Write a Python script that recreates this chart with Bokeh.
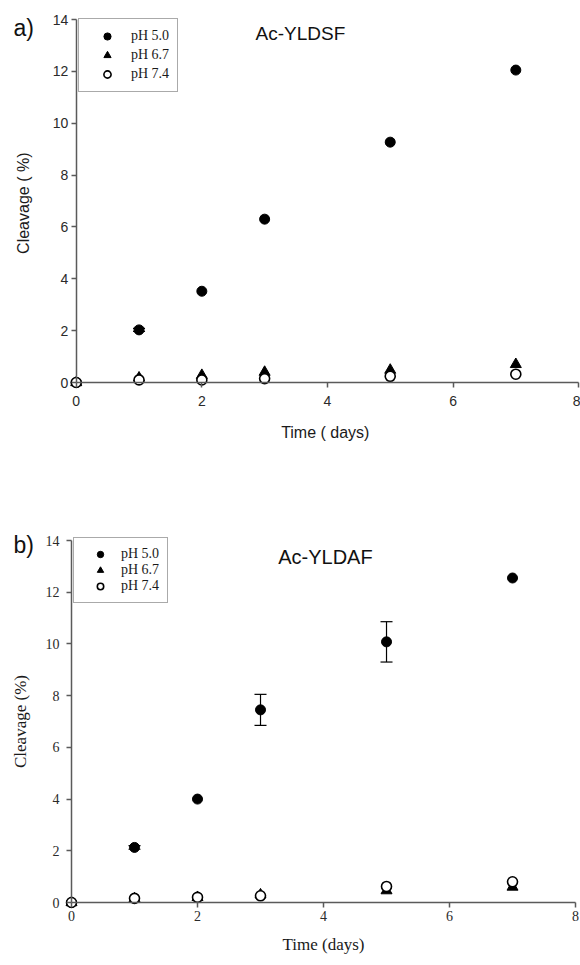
from bokeh.plotting import figure
from bokeh.models import (Range1d, FixedTicker, Legend, LegendItem, Label,
                          Whisker, TeeHead, ColumnDataSource)
from bokeh.layouts import column
from bokeh.embed import file_html
from bokeh.resources import INLINE

# ---------------- data ----------------
days = [0, 1, 2, 3, 5, 7]
series_labels = ["pH 5.0", "pH 6.7", "pH 7.4"]
x_ticks = [0, 2, 4, 6, 8]
y_ticks = [0, 2, 4, 6, 8, 10, 12, 14]

# panel a) Ac-YLDSF
a_ph50 = [0, 2.03, 3.52, 6.3, 9.27, 12.05]
a_ph50_err = [0, 0.06, 0, 0, 0, 0]
a_ph67 = [0, 0.18, 0.28, 0.4, 0.48, 0.7]
a_ph74 = [0, 0.1, 0.1, 0.15, 0.24, 0.32]

# panel b) Ac-YLDAF
b_ph50 = [0, 2.13, 4.0, 7.45, 10.08, 12.55]
b_ph50_err = [0, 0.07, 0, 0.6, 0.78, 0]
b_ph67 = [0, 0.15, 0.2, 0.3, 0.46, 0.6]
b_ph74 = [0, 0.16, 0.2, 0.26, 0.62, 0.8]

AXIS_COLOR = "#5a5a5a"
W = 580


def make_fig(h, xr, yr):
    p = figure(width=W, height=h, x_range=Range1d(*xr), y_range=Range1d(*yr),
               output_backend="svg", toolbar_location=None,
               min_border=0, min_border_left=0, min_border_right=0,
               min_border_top=0, min_border_bottom=0,
               outline_line_color=None)
    p.grid.visible = False
    return p


def style_axes(p, font, tick_size, label_size, xlab, ylab,
               x_std, x_lab_std, y_std, y_lab_std):
    xa = p.xaxis[0]
    ya = p.yaxis[0]
    xa.fixed_location = 0
    ya.fixed_location = 0
    xa.bounds = (0, 8)
    ya.bounds = (0, 14)
    xa.ticker = FixedTicker(ticks=x_ticks)
    ya.ticker = FixedTicker(ticks=y_ticks)
    for ax in (xa, ya):
        ax.major_tick_out = 5
        ax.major_tick_in = 0
        ax.minor_tick_out = 0
        ax.minor_tick_in = 0
        ax.axis_line_color = AXIS_COLOR
        ax.axis_line_width = 1.5
        ax.major_tick_line_color = AXIS_COLOR
        ax.major_tick_line_width = 1.5
        ax.major_label_text_font = font
        ax.major_label_text_font_size = tick_size
        ax.major_label_text_color = "#2a2a2a"
        ax.axis_label_text_font = font
        ax.axis_label_text_font_size = label_size
        ax.axis_label_text_font_style = "normal"
        ax.axis_label_text_color = "#1a1a1a"
    xa.axis_label = xlab
    ya.axis_label = ylab
    xa.major_label_standoff = x_std
    xa.axis_label_standoff = x_lab_std
    ya.major_label_standoff = y_std
    ya.axis_label_standoff = y_lab_std


def add_series(p, v50, v67, v74):
    r1 = p.scatter(days, v50, marker="circle", size=10,
                   fill_color="black", line_color="black")
    r2 = p.scatter(days, v67, marker="triangle", size=11,
                   fill_color="black", line_color="black")
    r3 = p.scatter(days, v74, marker="circle", size=10,
                   fill_color="white", line_color="black", line_width=1.6)
    return [r1, r2, r3]


def add_errors(p, vals, errs):
    base = [d for d, e in zip(days, errs) if e > 0]
    lower = [v - e for v, e in zip(vals, errs) if e > 0]
    upper = [v + e for v, e in zip(vals, errs) if e > 0]
    src = ColumnDataSource(data=dict(base=base, lower=lower, upper=upper))
    w = Whisker(base="base", lower="lower", upper="upper", source=src,
                dimension="height", line_color="black", line_width=1.2,
                upper_head=TeeHead(size=12, line_color="black", line_width=1.2),
                lower_head=TeeHead(size=12, line_color="black", line_width=1.2))
    p.add_layout(w)


def make_legend(renderers, loc, pad, spacing, glyph_w, glyph_h, row_h, standoff):
    return Legend(items=[LegendItem(label=l, renderers=[r])
                         for l, r in zip(series_labels, renderers)],
                  location=loc, padding=pad, spacing=spacing, margin=0,
                  glyph_width=glyph_w, glyph_height=glyph_h, label_height=row_h,
                  label_standoff=standoff, label_text_font="Liberation Serif",
                  label_text_font_size="14px", label_text_color="#1a1a1a",
                  border_line_color="#555555", border_line_width=1.5,
                  background_fill_color="white", background_fill_alpha=1)


# ---------------- panel a ----------------
pA = make_fig(478, (-1.206, 8.03), (-3.702, 14.733))
style_axes(pA, "Liberation Sans", "14px", "16px", "Time  ( days)",
           "Cleavage  ( %)", 8, 15, 3, 18)
add_errors(pA, a_ph50, a_ph50_err)
rA = add_series(pA, a_ph50, a_ph67, a_ph74)
pA.add_layout(make_legend(rA, (78, 386), 8, 1, 40, 18, 18, 4))
pA.add_layout(Label(x=3.57, y=13.46, text="Ac-YLDSF",
                    text_font="Liberation Sans", text_font_size="19px",
                    text_align="center", text_baseline="middle",
                    text_color="#111111"))
pA.add_layout(Label(x=-1.0, y=13.69, text="a)",
                    text_font="Liberation Sans", text_font_size="23px",
                    text_align="left", text_baseline="middle",
                    text_color="#111111"))

# ---------------- panel b ----------------
pB = make_fig(485, (-1.127, 8.079), (-2.359, 16.398))
style_axes(pB, "Liberation Serif", "14px", "17px", "Time (days)",
           "Cleavage (%)", 3, 11, 7, 13)
add_errors(pB, b_ph50, b_ph50_err)
rB = add_series(pB, b_ph50, b_ph67, b_ph74)
pB.add_layout(make_legend(rB, (73, 360), 8, 0, 36, 16, 13, 3))
pB.add_layout(Label(x=4.03, y=13.38, text="Ac-YLDAF",
                    text_font="Liberation Sans", text_font_size="20px",
                    text_align="center", text_baseline="middle",
                    text_color="#111111"))
pB.add_layout(Label(x=-0.92, y=13.81, text="b)",
                    text_font="Liberation Sans", text_font_size="23px",
                    text_align="left", text_baseline="middle",
                    text_color="#111111"))

layout = column(pA, pB)
open("out.html", "w").write(file_html(layout, INLINE))
